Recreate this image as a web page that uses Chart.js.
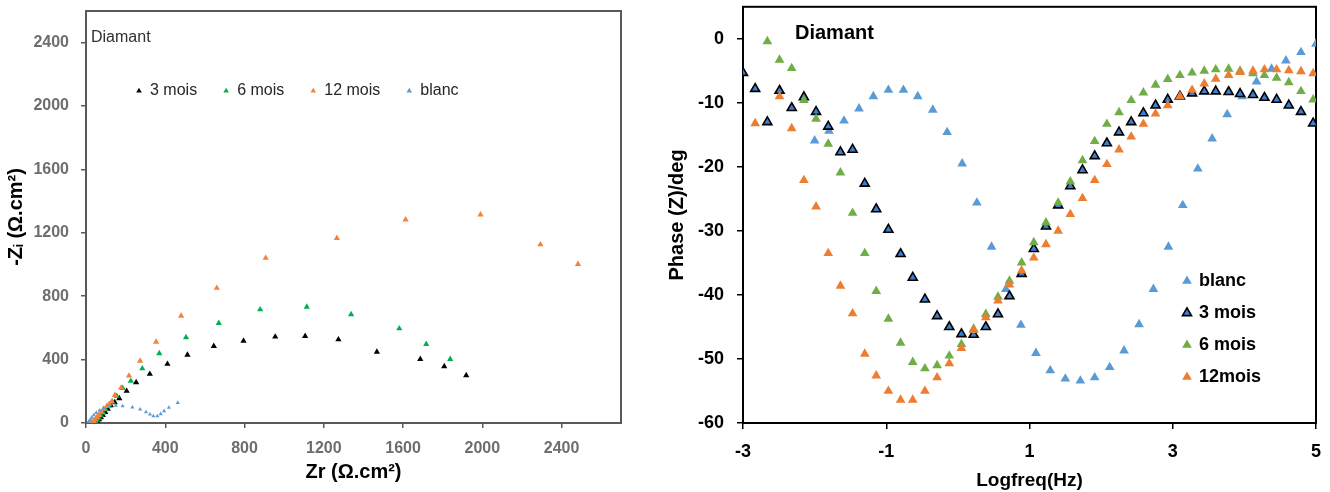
<!DOCTYPE html>
<html>
<head>
<meta charset="utf-8">
<script src="https://cdn.jsdelivr.net/npm/chart.js@4.4.1/dist/chart.umd.min.js"></script>
<style>
  html, body { margin: 0; padding: 0; background: #fff; }
  #wrap { position: relative; width: 1330px; height: 492px; overflow: hidden; }
  canvas { position: absolute; top: 0; }
  #nyquist { left: 0; }
  #bode { left: 650px; }
</style>
</head>
<body>
<div id="wrap">
  <canvas id="nyquist" width="650" height="492"></canvas>
  <canvas id="bode" width="680" height="492"></canvas>
</div>
<script>
// ---- Nyquist plot (left): Zr vs -Zi, ohm.cm2
const zr3 = [50, 58, 66, 75, 85, 97, 110, 125, 145, 168, 205, 253, 322, 411, 512, 645, 795, 955, 1106, 1274, 1468, 1687, 1808, 1919];
const zi3 = [3, 12, 22, 35, 50, 68, 88, 110, 130, 155, 202, 256, 309, 372, 430, 485, 518, 544, 548, 527, 449, 403, 357, 300];

const zr6 = [40, 48, 56, 65, 75, 87, 100, 115, 132, 155, 185, 226, 284, 370, 505, 670, 879, 1114, 1338, 1581, 1717, 1838];
const zi6 = [2, 10, 20, 32, 47, 65, 85, 108, 135, 170, 220, 265, 344, 439, 540, 630, 716, 733, 685, 596, 498, 403];

const zr12 = [30, 38, 46, 55, 65, 77, 90, 105, 117, 130, 146, 177, 217, 273, 354, 480, 660, 907, 1266, 1613, 1991, 2293, 2483];
const zi12 = [3, 12, 22, 35, 50, 68, 88, 106, 120, 134, 176, 222, 298, 392, 512, 676, 852, 1041, 1167, 1283, 1315, 1126, 1002];

const zrBlanc = [12, 16, 22, 30, 40, 52, 68, 88, 115, 150, 185, 234, 273, 303, 323, 340, 360, 377, 394, 418, 463];
const ziBlanc = [3, 12, 22, 35, 50, 65, 80, 95, 105, 110, 107, 99, 86, 69, 55, 44, 44, 57, 76, 97, 128];

const nyqXTicks = [0, 400, 800, 1200, 1600, 2000, 2400];
const nyqYTicks = [0, 400, 800, 1200, 1600, 2000, 2400];

// ---- Bode phase plot (right): log10(f) vs phase, deg
const logfAged = [-3.00, -2.83, -2.66, -2.49, -2.32, -2.15, -1.98, -1.81, -1.64, -1.47, -1.30, -1.14,
  -0.97, -0.80, -0.63, -0.46, -0.29, -0.12, 0.05, 0.22, 0.39, 0.56, 0.72, 0.89,
  1.06, 1.23, 1.40, 1.57, 1.74, 1.91, 2.08, 2.25, 2.42, 2.59, 2.76, 2.93,
  3.10, 3.27, 3.44, 3.60, 3.78, 3.94, 4.12, 4.28, 4.45, 4.62, 4.79, 4.96];
const phase3 = [-5.3, -7.8, -13.0, -8.1, -10.8, -9.1, -11.4, -13.7, -17.7, -17.3, -22.6, -26.6,
  -29.8, -33.6, -37.3, -40.7, -43.3, -45.0, -46.1, -46.2, -45.0, -43.0, -40.2, -36.7,
  -32.8, -29.3, -26.0, -23.0, -20.5, -18.3, -16.3, -14.6, -13.0, -11.6, -10.4, -9.5,
  -9.0, -8.5, -8.2, -8.2, -8.3, -8.6, -8.75, -9.2, -9.5, -10.4, -11.4, -13.2];
const phase6 = [null, null, -0.4, -3.3, -4.6, -9.6, -12.5, -16.4, -20.9, -27.2, -33.5, -39.4,
  -43.75, -47.5, -50.5, -51.5, -51.0, -49.5, -47.7, -45.3, -43.0, -40.3, -37.8, -34.95,
  -31.8, -28.7, -25.6, -22.3, -19.0, -16.0, -13.3, -11.5, -9.6, -8.4, -7.2, -6.3,
  -5.7, -5.3, -5.0, -4.8, -4.7, -5.0, -5.4, -5.7, -6.1, -6.8, -8.2, -9.5];
const phase12 = [null, -13.2, null, -9.0, -14.0, -22.1, -26.2, -33.5, -38.6, -42.9, -49.2, -52.6,
  -55.0, -56.4, -56.4, -55.0, -52.9, -50.7, -48.3, -45.5, -43.5, -40.9, -38.4, -36.2,
  -34.2, -32.1, -30.0, -27.4, -24.9, -22.1, -19.6, -17.3, -15.3, -13.3, -11.7, -10.4,
  -9.0, -8.0, -7.0, -6.25, -5.7, -5.2, -5.0, -4.8, -4.8, -4.95, -5.1, -5.4];

const logfBlanc = [-2.00, -1.80, -1.59, -1.38, -1.18, -0.97, -0.76, -0.56, -0.35, -0.15, 0.06, 0.265,
  0.47, 0.67, 0.88, 1.09, 1.29, 1.50, 1.71, 1.91, 2.12, 2.32, 2.53, 2.73,
  2.94, 3.14, 3.35, 3.55, 3.76, 3.97, 4.17, 4.38, 4.58, 4.79, 5.00];
const phaseBlanc = [-15.9, -14.4, -12.8, -10.9, -9.0, -8.0, -8.0, -9.0, -11.1, -14.6, -19.5, -25.6,
  -32.5, -39.1, -44.7, -49.1, -51.8, -53.1, -53.4, -52.9, -51.3, -48.7, -44.6, -39.1,
  -32.5, -26.0, -20.3, -15.6, -11.8, -9.0, -6.7, -4.7, -3.4, -2.1, -0.8];

const bodeXTicks = [-3, -1, 1, 3, 5];
const bodeYTicks = [-60, -50, -40, -30, -20, -10, 0];

const FAMILY = "'Liberation Sans', Arial, sans-serif";

const pts = (xs, ys) => xs.map((x, i) => ({ x: x, y: ys[i] }));

function triangle(ctx, x, y, r, fill, stroke, bw) {
  ctx.beginPath();
  ctx.moveTo(x, y - r);
  ctx.lineTo(x + 0.866 * r, y + 0.5 * r);
  ctx.lineTo(x - 0.866 * r, y + 0.5 * r);
  ctx.closePath();
  ctx.fillStyle = fill;
  ctx.fill();
  if (bw > 0) {
    ctx.lineWidth = bw;
    ctx.strokeStyle = stroke;
    ctx.stroke();
  }
}

// frame around the plot area + in-plot title and legend
function overlay(cfg) {
  return {
    id: 'overlay',
    beforeDatasetsDraw(chart) {
      const ctx = chart.ctx, a = chart.chartArea;
      ctx.save();
      ctx.strokeStyle = cfg.frame;
      ctx.lineWidth = cfg.frameWidth;
      ctx.strokeRect(a.left, a.top, a.right - a.left, a.bottom - a.top);
      ctx.restore();
    },
    afterDraw(chart) {
      const ctx = chart.ctx;
      ctx.save();
      ctx.textBaseline = 'middle';
      ctx.textAlign = 'left';
      ctx.font = cfg.titleFont;
      ctx.fillStyle = cfg.titleColor;
      ctx.fillText(cfg.title, cfg.titleX, cfg.titleY);
      ctx.font = cfg.legendFont;
      let x = cfg.legendX, y = cfg.legendY;
      cfg.order.forEach(i => {
        const ds = chart.data.datasets[i];
        triangle(ctx, x, y, cfg.markerR || ds.pointRadius, ds.backgroundColor, ds.borderColor, ds.borderWidth);
        ctx.fillStyle = cfg.legendColor;
        ctx.fillText(ds.label, x + cfg.textGap, y);
        if (cfg.vertical) y += cfg.rowGap;
        else x += cfg.textGap + ctx.measureText(ds.label).width + cfg.itemGap;
      });
      ctx.restore();
    }
  };
}

function axis(o) {
  return {
    type: 'linear',
    position: o.position,
    min: o.min,
    max: o.max,
    afterBuildTicks: s => { s.ticks = o.ticks.map(v => ({ value: v })); },
    afterFit: s => {
      // fixed axis box, no extra label overhang padding
      if (o.position === 'left') s.width = o.size; else s.height = o.size;
      s.paddingTop = 0; s.paddingBottom = 0; s.paddingLeft = 0; s.paddingRight = 0;
    },
    ticks: { font: o.tickFont, color: o.tickColor, padding: o.tickPad, callback: v => String(v) },
    grid: { drawOnChartArea: false, drawTicks: true, tickLength: o.tickLen, color: o.lineColor, lineWidth: 1.5 },
    border: { display: false },
    title: { display: true, text: o.title, font: o.titleFont, color: '#000', padding: o.titlePad }
  };
}

const base = {
  responsive: false,
  animation: false,
  devicePixelRatio: 1,
  events: [],
  plugins: { legend: { display: false }, tooltip: { enabled: false } }
};

// ---------------- left chart
const nyqTick = { family: FAMILY, size: 16, weight: 'bold' };
const nyqTitle = { family: FAMILY, size: 20, weight: 'bold' };

new Chart(document.getElementById('nyquist'), {
  type: 'scatter',
  data: {
    datasets: [
      { label: '3 mois', data: pts(zr3, zi3), pointStyle: 'triangle', pointRadius: 3.6,
        backgroundColor: '#000000', borderColor: '#000000', borderWidth: 0, order: 3 },
      { label: '6 mois', data: pts(zr6, zi6), pointStyle: 'triangle', pointRadius: 3.6,
        backgroundColor: '#00B050', borderColor: '#00B050', borderWidth: 0, order: 2 },
      { label: '12 mois', data: pts(zr12, zi12), pointStyle: 'triangle', pointRadius: 3.6,
        backgroundColor: '#F7803A', borderColor: '#F7803A', borderWidth: 0, order: 1 },
      { label: 'blanc', data: pts(zrBlanc, ziBlanc), pointStyle: 'triangle', pointRadius: 2.4,
        backgroundColor: '#5B9BD5', borderColor: '#5B9BD5', borderWidth: 0, order: 0 }
    ]
  },
  options: Object.assign({}, base, {
    layout: { padding: { top: 11, right: 29, left: 0, bottom: 0 } },
    scales: {
      x: axis({ position: 'bottom', min: 0, max: 2700, ticks: nyqXTicks, size: 69,
        tickFont: nyqTick, tickColor: '#6e6e6e', tickPad: 11, tickLen: 5, lineColor: '#595959',
        title: 'Zr (Ω.cm²)', titleFont: nyqTitle, titlePad: { top: 0, bottom: 8 } }),
      y: axis({ position: 'left', min: 0, max: 2600, ticks: nyqYTicks, size: 86,
        tickFont: nyqTick, tickColor: '#6e6e6e', tickPad: 12, tickLen: 5, lineColor: '#595959',
        title: '-Zᵢ (Ω.cm²)', titleFont: nyqTitle, titlePad: { top: 4, bottom: 0 } })
    }
  }),
  plugins: [overlay({
    frame: '#595959', frameWidth: 2,
    title: 'Diamant', titleFont: '16px ' + FAMILY, titleColor: '#303030', titleX: 91, titleY: 38,
    legendFont: '16px ' + FAMILY, legendColor: '#262626',
    legendX: 139, legendY: 91, textGap: 11, itemGap: 29, markerR: 3.2, vertical: false,
    order: [0, 1, 2, 3]
  })]
});

// ---------------- right chart
const bodeTick = { family: FAMILY, size: 18, weight: 'bold' };
const bodeTitle = { family: FAMILY, size: 19, weight: 'bold' };

new Chart(document.getElementById('bode'), {
  type: 'scatter',
  data: {
    datasets: [
      { label: 'blanc', data: pts(logfBlanc, phaseBlanc), pointStyle: 'triangle', pointRadius: 5.6,
        backgroundColor: '#5B9BD5', borderColor: '#5B9BD5', borderWidth: 0, order: 4 },
      { label: '3 mois', data: pts(logfAged, phase3), pointStyle: 'triangle', pointRadius: 5.2,
        backgroundColor: '#3F7FCF', borderColor: '#000000', borderWidth: 1.6, order: 3 },
      { label: '6 mois', data: pts(logfAged, phase6), pointStyle: 'triangle', pointRadius: 5.6,
        backgroundColor: '#70AD47', borderColor: '#70AD47', borderWidth: 0, order: 2 },
      { label: '12mois', data: pts(logfAged, phase12), pointStyle: 'triangle', pointRadius: 5.6,
        backgroundColor: '#ED7D31', borderColor: '#ED7D31', borderWidth: 0, order: 1 }
    ]
  },
  options: Object.assign({}, base, {
    layout: { padding: { top: 6, right: 14, left: 0, bottom: 0 } },
    scales: {
      x: axis({ position: 'bottom', min: -3, max: 5, ticks: bodeXTicks, size: 69,
        tickFont: bodeTick, tickColor: '#000', tickPad: 12, tickLen: 6, lineColor: '#000',
        title: 'Logfreq(Hz)', titleFont: bodeTitle, titlePad: { top: 0, bottom: 0 } }),
      y: axis({ position: 'left', min: -60, max: 5, ticks: bodeYTicks, size: 93,
        tickFont: bodeTick, tickColor: '#000', tickPad: 13, tickLen: 6, lineColor: '#000',
        title: 'Phase (Z)/deg', titleFont: { family: FAMILY, size: 20, weight: 'bold' }, titlePad: { top: 15, bottom: 0 } })
    }
  }),
  plugins: [overlay({
    frame: '#000000', frameWidth: 2,
    title: 'Diamant', titleFont: 'bold 20px ' + FAMILY, titleColor: '#000', titleX: 145, titleY: 33,
    legendFont: 'bold 18px ' + FAMILY, legendColor: '#000',
    legendX: 537, legendY: 281, textGap: 12, rowGap: 32, vertical: true,
    order: [0, 1, 2, 3]
  })]
});
</script>
</body>
</html>
